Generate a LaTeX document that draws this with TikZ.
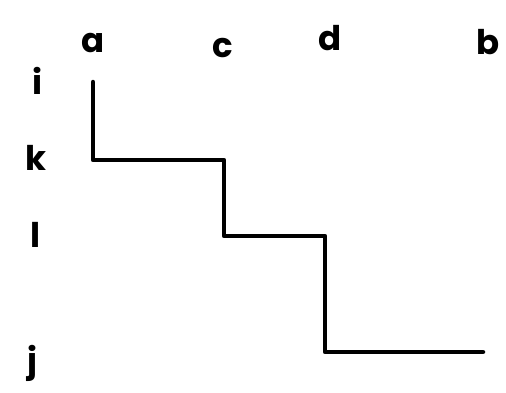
\documentclass[tikz,border=0pt]{standalone}
\usepackage{fontspec}
\setmainfont{Poppins}
\begin{document}
\begin{tikzpicture}[x=1pt,y=-1pt,
  lbl/.style={font=\fontsize{34}{34}\selectfont\bfseries, inner sep=0pt, anchor=base},
  stair/.style={line width=4.5pt, line cap=round, line join=round}]
\useasboundingbox (0,0) rectangle (506,392);
\node[lbl] (la) at (93,52) {a};
\node[lbl] (lc) at (223,57) {c};
\node[lbl] (ld) at (330,50) {d};
\node[lbl] (lb) at (488,54) {b};
\node[lbl] (li) at (38,94) {i};
\node[lbl] (lk) at (36,170) {k};
\node[lbl] (ll) at (36,247) {l};
\node[lbl] (lj) at (32,372) {j};
\coordinate (p0) at (93,82);
\coordinate (p1) at (93,160);
\coordinate (p2) at (224,160);
\coordinate (p3) at (224,236);
\coordinate (p4) at (325,236);
\coordinate (p5) at (325,352);
\coordinate (p6) at (483,352);
\draw[stair] (p0) -- (p1) -- (p2) -- (p3) -- (p4) -- (p5) -- (p6);
\end{tikzpicture}
\end{document}
